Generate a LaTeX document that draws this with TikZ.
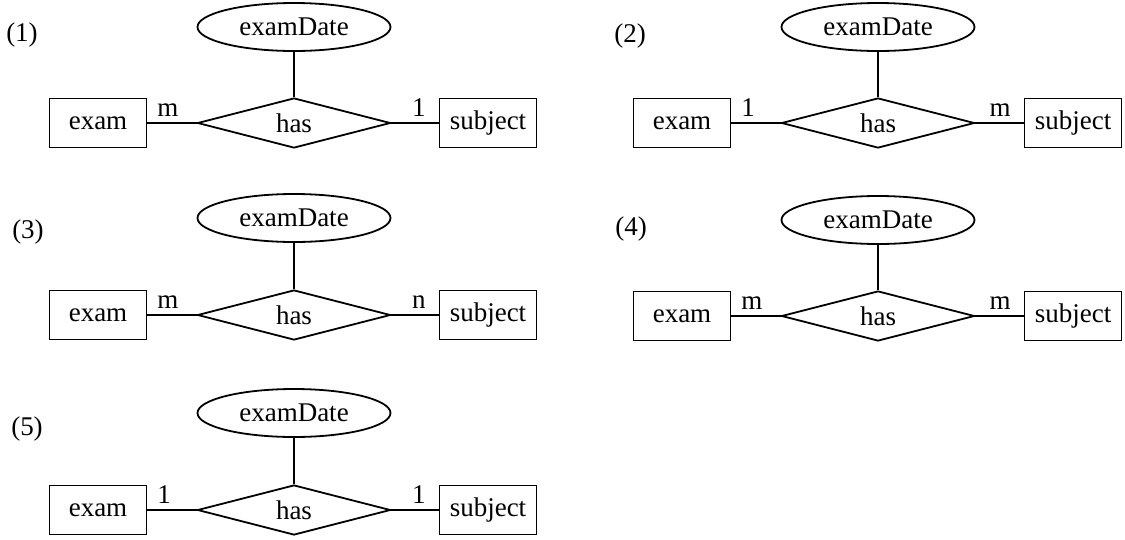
\documentclass[tikz,border=0pt]{standalone}
\usepackage{fontspec}
\setmainfont{Liberation Serif}
\usetikzlibrary{shapes.geometric}

\begin{document}
\begin{tikzpicture}[x=1pt,y=-1pt,line width=1.8pt,
  font=\fontsize{27}{32}\selectfont,
  ent/.style={draw,rectangle,inner sep=0pt,minimum width=97pt,minimum height=49pt},
  rel/.style={draw,diamond,aspect=4,inner sep=0pt,minimum width=193pt,minimum height=50pt},
  att/.style={draw,ellipse,inner sep=0pt,minimum width=193pt,minimum height=48pt},
  card/.style={inner sep=3pt,yshift=3pt}]
\useasboundingbox (0,0) rectangle (1125,539);
% (1)
\node (n1) at (22,35) {(1)};
\node [att] (d1) at (294,27) {examDate};
\node [rel] (r1) at (294,123) {has};
\node [ent] (e1) at (98,123) {exam};
\node [ent] (s1) at (488,123) {subject};
\draw (d1) -- (r1);
\draw (e1) -- (r1) node [card,pos=0,anchor=south west,xshift=6pt] {m};
\draw (r1) -- (s1) node [card,pos=1,anchor=south east,xshift=-9pt] {1};
% (2)
\node (n2) at (630,36) {(2)};
\node [att] (d2) at (878,27) {examDate};
\node [rel] (r2) at (878,123) {has};
\node [ent] (e2) at (682,123) {exam};
\node [ent] (s2) at (1073,123) {subject};
\draw (d2) -- (r2);
\draw (e2) -- (r2) node [card,pos=0,anchor=south west,xshift=6pt] {1};
\draw (r2) -- (s2) node [card,pos=1,anchor=south east,xshift=-9pt] {m};
% (3)
\node (n3) at (28,232) {(3)};
\node [att] (d3) at (294,218) {examDate};
\node [rel] (r3) at (294,315) {has};
\node [ent] (e3) at (98,315) {exam};
\node [ent] (s3) at (488,315) {subject};
\draw (d3) -- (r3);
\draw (e3) -- (r3) node [card,pos=0,anchor=south west,xshift=6pt] {m};
\draw (r3) -- (s3) node [card,pos=1,anchor=south east,xshift=-9pt] {n};
% (4)
\node (n4) at (631,229) {(4)};
\node [att] (d4) at (878,220) {examDate};
\node [rel] (r4) at (878,316) {has};
\node [ent] (e4) at (682,316) {exam};
\node [ent] (s4) at (1073,316) {subject};
\draw (d4) -- (r4);
\draw (e4) -- (r4) node [card,pos=0,anchor=south west,xshift=6pt] {m};
\draw (r4) -- (s4) node [card,pos=1,anchor=south east,xshift=-9pt] {m};
% (5)
\node (n5) at (27,429) {(5)};
\node [att] (d5) at (294,413) {examDate};
\node [rel] (r5) at (294,510) {has};
\node [ent] (e5) at (98,510) {exam};
\node [ent] (s5) at (488,510) {subject};
\draw (d5) -- (r5);
\draw (e5) -- (r5) node [card,pos=0,anchor=south west,xshift=6pt] {1};
\draw (r5) -- (s5) node [card,pos=1,anchor=south east,xshift=-9pt] {1};
\end{tikzpicture}
\end{document}
